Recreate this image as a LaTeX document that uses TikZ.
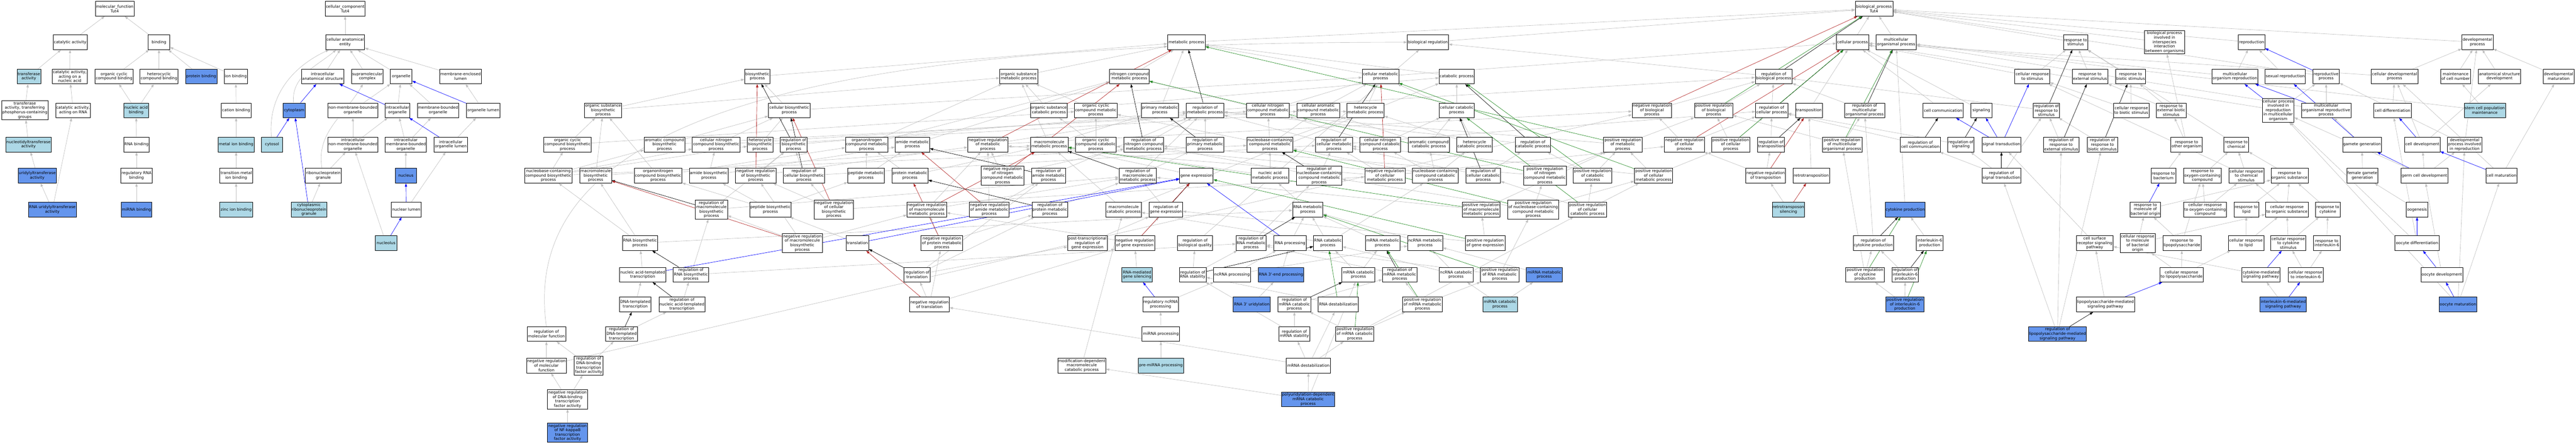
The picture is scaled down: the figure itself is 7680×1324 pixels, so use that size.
\documentclass[tikz,border=0pt]{standalone}
\usepackage{fontspec}
\setmainfont{DejaVu Sans}
\usetikzlibrary{arrows.meta}
\definecolor{lbc}{HTML}{ADD8E6}
\definecolor{blc}{HTML}{6495ED}
\definecolor{gec}{HTML}{C0C0C0}
\definecolor{rec}{HTML}{B22222}
\definecolor{grc}{HTML}{228B22}
\definecolor{bec}{HTML}{0000FF}
\newcommand{\gofont}{\fontsize{11.7}{13.2}\selectfont}
\newcommand{\gonode}[6]{\node[gb,minimum width=#4,#5] (#1) at (#2,-#3) {#6};}
\pgfdeclarelayer{bgfill}
\pgfdeclarelayer{edges}
\pgfsetlayers{bgfill,edges,main}
\tikzset{
  gb/.style={draw=black,line width=1.1pt,fill=white,align=center,inner sep=1.5pt,minimum height=44,font=\gofont},
  lbf/.style={fill=lbc},
  blf/.style={fill=blc},
  hfour/.style={minimum height=57},
  hfive/.style={minimum height=70},
  eb/.style={line width=1pt,-{Triangle[length=10pt,width=7pt]}},
  ge/.style={eb,draw=gec},
  ke/.style={eb,draw=black},
  re/.style={eb,draw=rec},
  gre/.style={eb,draw=grc},
  be/.style={eb,draw=bec}
}
\begin{document}
\begin{tikzpicture}[x=1pt,y=1pt]
\begin{pgfonlayer}{bgfill}
\path[use as bounding box,fill=white] (0,0) rectangle (7680,-1324);
\end{pgfonlayer}
% ---------- molecular function ----------
\gonode{mf}{342}{26}{116}{}{molecular\_function\\Tut4}
\gonode{catact}{209}{126}{102}{}{catalytic activity}
\gonode{binding}{474}{126}{64}{}{binding}
\gonode{transf}{86}{228}{71}{lbf}{transferase\\activity}
\gonode{catna}{208}{228}{105}{}{catalytic activity,\\acting on a\\nucleic acid}
\gonode{occb}{340}{228}{112}{}{organic cyclic\\compound binding}
\gonode{hcb}{474}{228}{113}{}{heterocyclic\\compound binding}
\gonode{protb}{600}{228}{94}{blf}{protein binding}
\gonode{ionb}{703}{228}{69}{}{ion binding}
\gonode{transphos}{74}{329}{138}{hfour}{transferase\\activity, transferring\\phosphorus-containing\\groups}
\gonode{catrna}{218}{329}{104}{}{catalytic activity,\\acting on RNA}
\gonode{nab}{406}{329}{73}{lbf}{nucleic acid\\binding}
\gonode{cationb}{704}{329}{88}{}{cation binding}
\gonode{ntt}{85}{431}{136}{lbf}{nucleotidyltransferase\\activity}
\gonode{rnab}{407}{431}{76}{}{RNA binding}
\gonode{metalb}{704}{431}{107}{lbf}{metal ion binding}
\gonode{uridyl}{111}{524}{114}{blf}{uridylyltransferase\\activity}
\gonode{regrnab}{407}{524}{93}{}{regulatory RNA\\binding}
\gonode{tmib}{704}{524}{98}{}{transition metal\\ion binding}
\gonode{rnauridyl}{156}{625}{143}{blf}{RNA uridylyltransferase\\activity}
\gonode{mirnab}{407}{625}{90}{blf}{miRNA binding}
\gonode{zincb}{704}{625}{97}{lbf}{zinc ion binding}
% ---------- cellular component ----------
\gonode{cc}{1029}{26}{118}{}{cellular\_component\\Tut4}
\gonode{cae}{1029}{126}{116}{}{cellular anatomical\\entity}
\gonode{ias}{962}{228}{126}{}{intracellular\\anatomical structure}
\gonode{smc}{1095}{228}{95}{}{supramolecular\\complex}
\gonode{organelle}{1196}{228}{65}{}{organelle}
\gonode{mel}{1373}{228}{125}{}{membrane-enclosed\\lumen}
\gonode{cytoplasm}{877}{329}{66}{blf}{cytoplasm}
\gonode{nmbo}{1052}{329}{148}{}{non-membrane-bounded\\organelle}
\gonode{io}{1185}{329}{73}{}{intracellular\\organelle}
\gonode{mbo}{1306}{329}{123}{}{membrane-bounded\\organelle}
\gonode{ol}{1441}{329}{100}{}{organelle lumen}
\gonode{cytosol}{811}{431}{63}{lbf}{cytosol}
\gonode{inmbo}{1052}{431}{148}{}{intracellular\\non-membrane-bounded\\organelle}
\gonode{imbo}{1210}{431}{123}{}{intracellular\\membrane-bounded\\organelle}
\gonode{iol}{1344}{431}{99}{}{intracellular\\organelle lumen}
\gonode{rnpg}{964}{524}{107}{}{ribonucleoprotein\\granule}
\gonode{nucleus}{1210}{524}{63}{blf}{nucleus}
\gonode{crnpg}{921}{625}{106}{lbf}{cytoplasmic\\ribonucleoprotein\\granule}
\gonode{nlumen}{1211}{625}{88}{}{nuclear lumen}
\gonode{nucleolus}{1151}{725}{64}{lbf}{nucleolus}
% ---------- biosynthetic ----------
\gonode{osbp}{1798}{329}{109}{}{organic substance\\biosynthetic\\process}
\gonode{biosyn}{2258}{228}{76}{}{biosynthetic\\process}
\gonode{cbp}{2353}{329}{124}{}{cellular biosynthetic\\process}
\gonode{occbp}{1692}{431}{141}{}{organic cyclic\\compound biosynthetic\\process}
\gonode{acbp}{1981}{431}{121}{}{aromatic compound\\biosynthetic\\process}
\gonode{cncbp}{2135}{431}{142}{}{cellular nitrogen\\compound biosynthetic\\process}
\gonode{hbp}{2266}{431}{76}{}{heterocycle\\biosynthetic\\process}
\gonode{regbp2}{2366}{431}{79}{}{regulation of\\biosynthetic\\process}
\gonode{nbcbp}{1635}{524}{140}{}{nucleobase-containing\\compound biosynthetic\\process}
\gonode{mbp}{1776}{524}{94}{}{macromolecule\\biosynthetic\\process}
\gonode{oncbp}{1962}{524}{142}{}{organonitrogen\\compound biosynthetic\\process}
\gonode{amidebp}{2113}{524}{116}{}{amide biosynthetic\\process}
\gonode{negregbiop}{2253}{524}{120}{}{negative regulation\\of biosynthetic\\process}
\gonode{regcbp}{2397}{524}{123}{}{regulation of\\cellular biosynthetic\\process}
\gonode{rmbp}{2121}{625}{96}{hfour}{regulation of\\macromolecule\\biosynthetic\\process}
\gonode{peptbp}{2297}{625}{122}{}{peptide biosynthetic\\process}
\gonode{negregcbp}{2486}{625}{117}{hfour}{negative regulation\\of cellular\\biosynthetic\\process}
\gonode{rnabp}{1908}{725}{105}{}{RNA biosynthetic\\process}
\gonode{negregmbp}{2392}{725}{119}{hfour}{negative regulation\\of macromolecule\\biosynthetic\\process}
\gonode{translation}{2556}{725}{68}{}{translation}
\gonode{nat}{1916}{819}{137}{}{nucleic acid-templated\\transcription}
\gonode{regrnabp}{2060}{819}{106}{}{regulation of\\RNA biosynthetic\\process}
\gonode{dnat}{1894}{908}{94}{}{DNA-templated\\transcription}
\gonode{regnat}{2033}{908}{137}{}{regulation of\\nucleic acid-templated\\transcription}
\gonode{regmf}{1629}{996}{115}{}{regulation of\\molecular function}
\gonode{regdnat}{1853}{996}{94}{}{regulation of\\DNA-templated\\transcription}
\gonode{negregmf}{1629}{1090}{118}{}{negative regulation\\of molecular\\function}
\gonode{regdbtf}{1755}{1090}{86}{hfour}{regulation of\\DNA-binding\\transcription\\factor activity}
\gonode{negregdbtf}{1692}{1191}{119}{hfour}{negative regulation\\of DNA-binding\\transcription\\factor activity}
\gonode{negregnfkb}{1692}{1290}{119}{hfour,blf}{negative regulation\\of NF-kappaB\\transcription\\factor activity}
% ---------- metabolic ----------
\gonode{metab}{3537}{126}{112}{}{metabolic process}
\gonode{osmp}{3037}{228}{113}{}{organic substance\\metabolic process}
\gonode{ncmp}{3367}{228}{117}{}{nitrogen compound\\metabolic process}
\gonode{oscp}{3127}{329}{109}{}{organic substance\\catabolic process}
\gonode{occmp}{3267}{329}{127}{}{organic cyclic\\compound metabolic\\process}
\gonode{primmet}{3458}{329}{112}{}{primary metabolic\\process}
\gonode{regmet}{3593}{329}{112}{}{regulation of\\metabolic process}
\gonode{cncmp}{3780}{329}{127}{}{cellular nitrogen\\compound metabolic\\process}
\gonode{oncmp}{2584}{431}{127}{}{organonitrogen\\compound metabolic\\process}
\gonode{amidemp}{2720}{431}{103}{}{amide metabolic\\process}
\gonode{negregmp}{2945}{431}{120}{}{negative regulation\\of metabolic\\process}
\gonode{macromp}{3128}{431}{112}{}{macromolecule\\metabolic process}
\gonode{occcp}{3267}{431}{122}{}{organic cyclic\\compound catabolic\\process}
\gonode{regncmp}{3410}{431}{117}{}{regulation of\\nitrogen compound\\metabolic process}
\gonode{regpmp}{3593}{431}{112}{}{regulation of\\primary metabolic\\process}
\gonode{nbcmp}{3786}{431}{137}{}{nucleobase-containing\\compound metabolic\\process}
\gonode{peptmp}{2582}{524}{109}{}{peptide metabolic\\process}
\gonode{protmp}{2713}{524}{108}{}{protein metabolic\\process}
\gonode{negregncmp}{2989}{524}{126}{hfour}{negative regulation\\of nitrogen\\compound metabolic\\process}
\gonode{regamp}{3126}{524}{102}{}{regulation of\\amide metabolic\\process}
\gonode{regmmp}{3392}{524}{112}{}{regulation of\\macromolecule\\metabolic process}
\gonode{geneexp}{3567}{524}{100}{}{gene expression}
\gonode{nacmp}{3786}{524}{111}{}{nucleic acid\\metabolic process}
\gonode{negregmmp}{2763}{625}{118}{}{negative regulation\\of macromolecule\\metabolic process}
\gonode{negregamp}{2949}{625}{118}{}{negative regulation\\of amide metabolic\\process}
\gonode{regprotmp}{3130}{625}{107}{}{regulation of\\protein metabolic\\process}
\gonode{macrocp}{3350}{625}{105}{}{macromolecule\\catabolic process}
\gonode{reggeneexp}{3476}{625}{100}{}{regulation of\\gene expression}
\gonode{negregprotmp}{2808}{725}{124}{}{negative regulation\\of protein metabolic\\process}
\gonode{ptrge}{3242}{725}{118}{}{post-transcriptional\\regulation of\\gene expression}
\gonode{negregge}{3383}{725}{118}{}{negative regulation\\of gene expression}
\gonode{regbq}{3563}{725}{104}{}{regulation of\\biological quality}
\gonode{regrnamp}{3730}{725}{90}{}{regulation of\\RNA metabolic\\process}
\gonode{rnaproc}{3846}{725}{96}{}{RNA processing}
\gonode{regtransl}{2734}{819}{78}{}{regulation of\\translation}
\gonode{rnamgs}{3390}{819}{90}{lbf}{RNA-mediated\\gene silencing}
\gonode{regrnastab}{3556}{819}{80}{}{regulation of\\RNA stability}
\gonode{ncrnaproc}{3673}{819}{110}{}{ncRNA processing}
\gonode{rna3end}{3819}{819}{136}{blf}{RNA 3\textquotesingle-end processing}
\gonode{negregtransl}{2771}{908}{118}{}{negative regulation\\of translation}
\gonode{regncrnaproc}{3460}{908}{106}{}{regulatory ncRNA\\processing}
\gonode{rna3urid}{3732}{908}{111}{blf}{RNA 3\textquotesingle{} uridylation}
\gonode{mirnaproc}{3461}{996}{112}{}{miRNA processing}
\gonode{mdmcp}{3225}{1090}{143}{}{modification-dependent\\macromolecule\\catabolic process}
\gonode{premirna}{3461}{1090}{135}{lbf}{pre-miRNA processing}
% ---------- catabolic / regulation ----------
\gonode{bioreg}{4257}{126}{123}{}{biological regulation}
\gonode{cellmet}{4116}{228}{109}{}{cellular metabolic\\process}
\gonode{catab}{4343}{228}{105}{}{catabolic process}
\gonode{camp}{3930}{329}{127}{}{cellular aromatic\\compound metabolic\\process}
\gonode{hmp}{4071}{329}{111}{}{heterocycle\\metabolic process}
\gonode{ccat}{4343}{329}{105}{}{cellular catabolic\\process}
\gonode{negregbp}{4925}{329}{118}{}{negative regulation\\of biological\\process}
\gonode{posregbp}{5109}{329}{114}{}{positive regulation\\of biological\\process}
\gonode{regcmp}{3977}{431}{110}{}{regulation of\\cellular metabolic\\process}
\gonode{cnccp}{4115}{431}{122}{}{cellular nitrogen\\compound catabolic\\process}
\gonode{accp}{4260}{431}{122}{}{aromatic compound\\catabolic process}
\gonode{hcp}{4396}{431}{106}{}{heterocycle\\catabolic process}
\gonode{regcatp}{4570}{431}{104}{}{regulation of\\catabolic process}
\gonode{posregmp}{4838}{431}{114}{}{positive regulation\\of metabolic\\process}
\gonode{negregcp}{5022}{431}{120}{}{negative regulation\\of cellular\\process}
\gonode{posregcp}{5160}{431}{115}{}{positive regulation\\of cellular\\process}
\gonode{regnbcmp}{3933}{524}{136}{hfour}{regulation of\\nucleobase-containing\\compound metabolic\\process}
\gonode{negregcmp}{4129}{524}{120}{}{negative regulation\\of cellular\\metabolic process}
\gonode{nbccp}{4279}{524}{136}{}{nucleobase-containing\\compound catabolic\\process}
\gonode{regccp}{4422}{524}{104}{}{regulation of\\cellular catabolic\\process}
\gonode{posregncmp}{4606}{524}{127}{hfour}{positive regulation\\of nitrogen\\compound metabolic\\process}
\gonode{posregcatp}{4748}{524}{115}{}{positive regulation\\of catabolic\\process}
\gonode{posregcmp}{4930}{524}{114}{}{positive regulation\\of cellular\\metabolic process}
\gonode{rnamp}{3899}{625}{90}{}{RNA metabolic\\process}
\gonode{posregmmp}{4416}{625}{110}{}{positive regulation\\of macromolecule\\metabolic process}
\gonode{posregnbcmp}{4571}{625}{152}{hfour}{positive regulation\\of nucleobase-containing\\compound metabolic\\process}
\gonode{posregccp}{4733}{625}{113}{}{positive regulation\\of cellular\\catabolic process}
% ---------- RNA ----------
\gonode{rnacp}{3959}{725}{86}{}{RNA catabolic\\process}
\gonode{mrnamp}{4122}{725}{103}{}{mRNA metabolic\\process}
\gonode{ncrnamp}{4249}{725}{104}{}{ncRNA metabolic\\process}
\gonode{posregge}{4428}{725}{117}{}{positive regulation\\of gene expression}
\gonode{mrnacp}{4050}{819}{98}{}{mRNA catabolic\\process}
\gonode{regmrnamp}{4173}{819}{103}{}{regulation of\\mRNA metabolic\\process}
\gonode{ncrnacp}{4341}{819}{101}{}{ncRNA catabolic\\process}
\gonode{posregrnamp}{4471}{819}{114}{}{positive regulation\\of RNA metabolic\\process}
\gonode{mirnamp}{4604}{819}{107}{blf}{miRNA metabolic\\process}
\gonode{regmrnacp}{3859}{908}{98}{}{regulation of\\mRNA catabolic\\process}
\gonode{rnadestab}{3990}{908}{120}{}{RNA destabilization}
\gonode{posregmrnamp}{4241}{908}{119}{}{positive regulation\\of mRNA metabolic\\process}
\gonode{mirnacp}{4472}{908}{103}{lbf}{miRNA catabolic\\process}
\gonode{regmrnastab}{3859}{996}{92}{}{regulation of\\mRNA stability}
\gonode{posregmrnacp}{4039}{996}{114}{}{positive regulation\\of mRNA catabolic\\process}
\gonode{mrnadestab}{3901}{1090}{132}{}{mRNA destabilization}
\gonode{polyu}{3900}{1191}{159}{blf}{polyuridylation-dependent\\mRNA catabolic\\process}
% ---------- biological process top ----------
\gonode{bp}{5587}{26}{112}{}{biological\_process\\Tut4}
\gonode{cellproc}{5523}{126}{96}{}{cellular process}
\gonode{multorg}{5653}{126}{120}{}{multicellular\\organismal process}
\gonode{respstim}{6188}{126}{73}{}{response to\\stimulus}
\gonode{regbp}{5288}{228}{110}{}{regulation of\\biological process}
\gonode{crstim}{6059}{228}{104}{}{cellular response\\to stimulus}
\gonode{rextstim}{6231}{228}{107}{}{response to\\external stimulus}
\gonode{rbiotic}{6352}{228}{88}{}{response to\\biotic stimulus}
\gonode{regcp}{5282}{329}{96}{}{regulation of\\cellular process}
\gonode{transpos}{5393}{329}{80}{}{transposition}
\gonode{regmop}{5559}{329}{119}{}{regulation of\\multicellular\\organismal process}
\gonode{cellcomm}{5793}{329}{119}{}{cell communication}
\gonode{signaling}{5907}{329}{63}{}{signaling}
\gonode{regrstim}{6101}{329}{77}{}{regulation of\\response to\\stimulus}
\gonode{crbiotic}{6354}{329}{105}{}{cellular response\\to biotic stimulus}
\gonode{regtransp}{5280}{431}{80}{}{regulation of\\transposition}
\gonode{posregmop}{5492}{431}{118}{}{positive regulation\\of multicellular\\organismal process}
\gonode{regcc}{5725}{431}{119}{}{regulation of\\cell communication}
\gonode{regsig}{5846}{431}{78}{}{regulation of\\signaling}
\gonode{sigtrans}{5967}{431}{115}{}{signal transduction}
\gonode{regrext}{6145}{431}{107}{}{regulation of\\response to\\external stimulus}
\gonode{regrbiotic}{6268}{431}{90}{}{regulation of\\response to\\biotic stimulus}
\gonode{negregtransp}{5264}{524}{118}{}{negative regulation\\of transposition}
\gonode{retrotransp}{5400}{524}{110}{}{retrotransposition}
\gonode{regsigtrans}{5967}{524}{115}{}{regulation of\\signal transduction}
\gonode{retrosil}{5332}{625}{96}{lbf}{retrotransposon\\silencing}
\gonode{cytoprod}{5680}{625}{119}{blf}{cytokine production}
\gonode{rmbo}{6396}{625}{91}{}{response to\\molecule of\\bacterial origin}
\gonode{regcytoprod}{5585}{725}{120}{}{regulation of\\cytokine production}
\gonode{il6prod}{5753}{725}{80}{}{interleukin-6\\production}
\gonode{csrsp}{6245}{725}{110}{}{cell surface\\receptor signaling\\pathway}
\gonode{crmbo}{6373}{725}{105}{hfour}{cellular response\\to molecule\\of bacterial\\origin}
\gonode{posregcytoprod}{5560}{819}{114}{}{positive regulation\\of cytokine\\production}
\gonode{regil6}{5680}{819}{79}{}{regulation of\\interleukin-6\\production}
\gonode{posregil6}{5679}{908}{114}{blf}{positive regulation\\of interleukin-6\\production}
\gonode{lpssp}{6277}{908}{174}{}{lipopolysaccharide-mediated\\signaling pathway}
\gonode{reglpssp}{6134}{996}{173}{blf}{regulation of\\lipopolysaccharide-mediated\\signaling pathway}
% ---------- reproduction / development / response ----------
\gonode{interspec}{6453}{126}{120}{hfive}{biological process\\involved in\\interspecies\\interaction\\between organisms}
\gonode{repro}{6713}{126}{79}{}{reproduction}
\gonode{devproc}{7386}{126}{93}{}{developmental\\process}
\gonode{mor}{6663}{228}{136}{}{multicellular\\organism reproduction}
\gonode{sexrep}{6813}{228}{120}{}{sexual reproduction}
\gonode{reprocp}{6935}{228}{79}{}{reproductive\\process}
\gonode{celldevp}{7139}{228}{139}{}{cellular developmental\\process}
\gonode{maintcn}{7321}{228}{89}{}{maintenance\\of cell number}
\gonode{asd}{7452}{228}{126}{}{anatomical structure\\development}
\gonode{devmat}{7628}{228}{93}{}{developmental\\maturation}
\gonode{rebiotic}{6473}{329}{88}{}{response to\\external biotic\\stimulus}
\gonode{cpirmo}{6792}{329}{95}{hfive}{cellular process\\involved in\\reproduction\\in multicellular\\organism}
\gonode{morp}{6935}{329}{147}{}{multicellular\\organismal reproductive\\process}
\gonode{celldiff}{7133}{329}{112}{}{cell differentiation}
\gonode{stemcell}{7408}{329}{123}{lbf}{stem cell population\\maintenance}
\gonode{rother}{6519}{431}{94}{}{response to\\other organism}
\gonode{rchem}{6667}{431}{74}{}{response to\\chemical}
\gonode{gametegen}{7042}{431}{116}{}{gamete generation}
\gonode{celldev}{7222}{431}{106}{}{cell development}
\gonode{dpir}{7348}{431}{102}{}{developmental\\process involved\\in reproduction}
\gonode{rbact}{6450}{524}{74}{}{response to\\bacterium}
\gonode{roxy}{6566}{524}{111}{}{response to\\oxygen-containing\\compound}
\gonode{crchem}{6697}{524}{104}{}{cellular response\\to chemical\\stimulus}
\gonode{rorgsub}{6826}{524}{111}{}{response to\\organic substance}
\gonode{femgam}{7043}{524}{93}{}{female gamete\\generation}
\gonode{germcd}{7228}{524}{140}{}{germ cell development}
\gonode{cellmat}{7458}{524}{93}{}{cell maturation}
\gonode{croxy}{6574}{625}{128}{}{cellular response\\to oxygen-containing\\compound}
\gonode{rlipid}{6697}{625}{74}{}{response to\\lipid}
\gonode{crorgsub}{6818}{625}{127}{}{cellular response\\to organic substance}
\gonode{rcytokine}{6940}{625}{74}{}{response to\\cytokine}
\gonode{oogenesis}{7206}{625}{65}{}{oogenesis}
\gonode{rlps}{6505}{725}{114}{}{response to\\lipopolysaccharide}
\gonode{crlipid}{6696}{725}{106}{}{cellular response\\to lipid}
\gonode{crcytokine}{6822}{725}{105}{}{cellular response\\to cytokine\\stimulus}
\gonode{ril6}{6937}{725}{79}{}{response to\\interleukin-6}
\gonode{oocytediff}{7206}{725}{131}{}{oocyte differentiation}
\gonode{crlps}{6504}{819}{129}{}{cellular response\\to lipopolysaccharide}
\gonode{cmsp}{6741}{819}{114}{}{cytokine-mediated\\signaling pathway}
\gonode{cril6}{6874}{819}{105}{}{cellular response\\to interleukin-6}
\gonode{oocytedev}{7280}{819}{124}{}{oocyte development}
\gonode{il6sp}{6807}{908}{138}{blf}{interleukin-6-mediated\\signaling pathway}
\gonode{oocytemat}{7328}{908}{112}{blf}{oocyte maturation}
% ================= edges =================
\begin{pgfonlayer}{edges}
\foreach \a/\b in {catact/mf,binding/mf,transf/catact,catna/catact,occb/binding,hcb/binding,protb/binding,ionb/binding,transphos/transf,catrna/catna,nab/occb,nab/hcb,cationb/ionb,ntt/transphos,rnab/nab,metalb/cationb,uridyl/ntt,regrnab/rnab,tmib/metalb,rnauridyl/uridyl,rnauridyl/catrna,mirnab/regrnab,zincb/tmib,
cae/cc,ias/cae,smc/cae,organelle/cae,mel/cae,io/organelle,nmbo/organelle,mbo/organelle,ol/mel,iol/ol,inmbo/nmbo,inmbo/io,imbo/io,imbo/mbo,rnpg/inmbo,nucleus/imbo,crnpg/rnpg,nlumen/iol,nucleolus/inmbo}
  \draw[ge] (\a) -- (\b);
\draw[ge] (cytoplasm) to[out=95,in=-140] (cae);
\draw[ge] (cytosol) to[out=95,in=-155] (cae);
\draw[ge] (rnpg) to[out=100,in=-120] (smc);
\foreach \a/\b in {cytoplasm/ias,io/ias,ol/organelle,iol/io,cytosol/cytoplasm,crnpg/cytoplasm,nlumen/nucleus,nucleolus/nlumen}
  \draw[be] (\a) -- (\b);
% gray BP
\foreach \a/\b in {metab/bp,bioreg/bp,cellproc/bp,multorg/bp,respstim/bp,interspec/bp,repro/bp,devproc/bp,reprocp/bp,
regbp/bioreg,biosyn/metab,osmp/metab,ncmp/metab,cellmet/metab,cellmet/cellproc,catab/metab,primmet/metab,regmet/regbp,negregmp/regmet,posregmp/regmet,negregmp/negregbp,posregmp/posregbp,negregbp/regbp,posregbp/regbp,regbq/bioreg,
osbp/biosyn,osbp/osmp,cbp/biosyn,cbp/cellmet,regbp2/regmet,negregbiop/regbp2,negregbiop/negregmp,occbp/osbp,occbp/occmp,acbp/cbp,acbp/camp,cncbp/cbp,cncbp/cncmp,hbp/cbp,hbp/hmp,nbcbp/occbp,nbcbp/acbp,nbcbp/cncbp,nbcbp/hbp,nbcbp/nbcmp,mbp/osbp,mbp/macromp,oncbp/osbp,oncbp/oncmp,amidebp/cncbp,amidebp/amidemp,regcbp/regbp2,regcbp/regcmp,negregcbp/negregbiop,negregcbp/regcbp,negregcbp/negregcmp,rmbp/regbp2,rmbp/regmmp,peptbp/amidebp,peptbp/peptmp,peptbp/oncbp,negregmbp/rmbp,negregmbp/negregbiop,negregmbp/negregmmp,translation/peptbp,rnabp/mbp,rnabp/nbcbp,rnabp/rnamp,nat/rnabp,regrnabp/rmbp,regrnabp/regrnamp,dnat/nat,regnat/regrnabp,regdnat/regnat,negregmf/regmf,negregmf/negregbp,regdbtf/regmf,regdbtf/regdnat,negregdbtf/negregmf,negregdbtf/regdbtf,negregnfkb/negregdbtf}
  \draw[ge] (\a) -- (\b);
\foreach \a/\b in {oscp/osmp,oscp/catab,occmp/osmp,cncmp/ncmp,cncmp/cellmet,camp/cellmet,hmp/cellmet,ccat/catab,ccat/cellmet,oncmp/osmp,oncmp/ncmp,amidemp/ncmp,macromp/osmp,macromp/primmet,occcp/occmp,occcp/oscp,regncmp/regmet,regpmp/regmet,nbcmp/cncmp,nbcmp/camp,nbcmp/hmp,nbcmp/occmp,regcmp/regmet,regcmp/regcp,cnccp/cncmp,cnccp/ccat,accp/camp,accp/ccat,hcp/hmp,hcp/ccat,regcatp/regmet,negregcp/regcp,negregcp/negregbp,posregcp/regcp,posregcp/posregbp,regcp/regbp,
peptmp/amidemp,peptmp/oncmp,protmp/macromp,protmp/oncmp,negregncmp/regncmp,negregncmp/negregmp,regamp/regmet,regmmp/regmet,regmmp/regpmp,geneexp/macromp,nacmp/nbcmp,nacmp/macromp,regnbcmp/regcmp,regnbcmp/regncmp,negregcmp/regcmp,negregcmp/negregmp,negregcmp/negregcp,nbccp/nbcmp,nbccp/cnccp,nbccp/accp,nbccp/hcp,nbccp/occcp,regccp/regcatp,regccp/regcmp,posregncmp/regncmp,posregncmp/posregmp,posregcatp/regcatp,posregcatp/posregmp,posregcmp/regcmp,posregcmp/posregmp,posregcmp/posregcp,
negregmmp/regmmp,negregmmp/negregmp,negregamp/regamp,negregamp/negregmp,regprotmp/regmmp,macrocp/macromp,macrocp/catab,reggeneexp/regmmp,rnamp/nacmp,posregmmp/regmmp,posregmmp/posregmp,posregnbcmp/regnbcmp,posregnbcmp/posregcmp,posregnbcmp/posregncmp,posregccp/regccp,posregccp/posregcatp,posregccp/posregcmp}
  \draw[ge] (\a) -- (\b);
\foreach \a/\b in {negregprotmp/regprotmp,negregprotmp/negregmmp,ptrge/reggeneexp,negregge/reggeneexp,negregge/negregmmp,regrnamp/regnbcmp,rnaproc/rnamp,rnacp/rnamp,rnacp/nbccp,rnacp/macrocp,mrnamp/rnamp,ncrnamp/rnamp,posregge/reggeneexp,posregge/posregmmp,
regtransl/ptrge,regtransl/regamp,regtransl/regprotmp,rnamgs/negregge,regrnastab/regbq,regrnastab/regrnamp,ncrnaproc/rnaproc,ncrnaproc/ncrnamp,rna3end/rnaproc,mrnacp/mrnamp,mrnacp/rnacp,regmrnamp/regrnamp,ncrnacp/ncrnamp,ncrnacp/rnacp,posregrnamp/regrnamp,posregrnamp/posregnbcmp,mirnamp/ncrnamp,
negregtransl/regtransl,negregtransl/negregprotmp,negregtransl/negregge,regncrnaproc/ncrnaproc,rna3urid/rna3end,regmrnacp/regmrnamp,rnadestab/regrnastab,posregmrnamp/regmrnamp,posregmrnamp/posregrnamp,mirnacp/mirnamp,mirnacp/ncrnacp,
mirnaproc/regncrnaproc,regmrnastab/regrnastab,regmrnastab/regmrnacp,posregmrnacp/regmrnacp,posregmrnacp/posregmrnamp,posregmrnacp/posregccp,
premirna/mirnaproc,mrnadestab/rnadestab,mrnadestab/regmrnastab,mrnadestab/posregmrnacp,mrnadestab/negregtransl,polyu/mrnadestab,polyu/mdmcp,polyu/mrnacp,mdmcp/macrocp}
  \draw[ge] (\a) -- (\b);
\foreach \a/\b in {cellcomm/cellproc,signaling/cellproc,regcc/regcp,regsig/regcp,regsigtrans/regcc,regsigtrans/regsig,regsigtrans/regrstim,crstim/respstim,crstim/cellproc,rextstim/respstim,rbiotic/respstim,regrstim/regbp,regrext/regrstim,regrbiotic/regrstim,crbiotic/rbiotic,crbiotic/crstim,rebiotic/rbiotic,rebiotic/rextstim,rother/rebiotic,rother/interspec,rbact/rother,rmbo/rorgsub,rchem/respstim,roxy/rchem,crchem/rchem,crchem/crstim,rorgsub/rchem,croxy/roxy,croxy/crchem,rlipid/rorgsub,crorgsub/rorgsub,crorgsub/crchem,rcytokine/rorgsub,rlps/rmbo,rlps/roxy,crmbo/rmbo,crmbo/crorgsub,crlipid/rlipid,crlipid/crorgsub,crcytokine/rcytokine,crcytokine/crorgsub,ril6/rcytokine,crlps/rlps,crlps/crmbo,crlps/crlipid,csrsp/sigtrans,cmsp/csrsp,cril6/crcytokine,cril6/ril6,lpssp/csrsp,il6sp/cmsp,reglpssp/regsigtrans,reglpssp/regrbiotic,reglpssp/regrext,
transpos/cellproc,regtransp/regcp,negregtransp/regtransp,negregtransp/negregcp,retrotransp/transpos,retrosil/negregtransp,
regmop/regbp,posregmop/regmop,posregmop/posregbp,cytoprod/multorg,regcytoprod/regmop,posregcytoprod/regcytoprod,posregcytoprod/posregmop,il6prod/cytoprod,regil6/regcytoprod,posregil6/regil6,posregil6/posregcytoprod,
mor/repro,mor/multorg,sexrep/repro,celldevp/devproc,celldevp/cellproc,maintcn/devproc,asd/devproc,devmat/devproc,cpirmo/reprocp,cpirmo/cellproc,morp/reprocp,morp/multorg,celldiff/celldevp,stemcell/maintcn,stemcell/multorg,gametegen/morp,celldev/celldevp,celldev/asd,dpir/reprocp,dpir/devproc,femgam/gametegen,germcd/celldev,germcd/cpirmo,germcd/dpir,cellmat/devmat,cellmat/celldevp,oogenesis/femgam,oocytediff/celldiff,oocytediff/cpirmo,oocytedev/germcd,oocytemat/cellmat,oocytemat/dpir,oocytemat/cpirmo}
  \draw[ge] (\a) -- (\b);
\draw[ge] (regmf.north) .. controls +(-100,700) and +(-1500,0) .. (bioreg.west);
% black (regulates)
\foreach \a/\b in {regbp/bp,regmet/metab,regbp2/biosyn,regcbp/cbp,rmbp/mbp,regrnabp/rnabp,regnat/nat,regdnat/dnat,regncmp/ncmp,regpmp/primmet,regcmp/cellmet,regcatp/catab,regcp/cellproc,regamp/amidemp,regmmp/macromp,regnbcmp/nbcmp,regccp/ccat,regprotmp/protmp,reggeneexp/geneexp,regrnamp/rnamp,regtransl/translation,regrnastab/rnacp,regmrnamp/mrnamp,regmrnacp/mrnacp,regcc/cellcomm,regsig/signaling,regsigtrans/sigtrans,regrstim/respstim,regrext/rextstim,regrbiotic/rbiotic,reglpssp/lpssp,regtransp/transpos,regmop/multorg,regcytoprod/cytoprod,regil6/il6prod}
  \draw[ke] (\a) -- (\b);
% red (negatively regulates)
\foreach \a/\b in {negregbp/bp,negregmp/metab,negregbiop/biosyn,negregcbp/cbp,negregmbp/mbp,negregncmp/ncmp,negregcmp/cellmet,negregcp/cellproc,negregmmp/macromp,negregamp/amidemp,negregprotmp/protmp,negregge/geneexp,negregtransl/translation,negregtransp/transpos,retrosil/retrotransp}
  \draw[re] (\a) -- (\b);
% green (positively regulates)
\foreach \a/\b in {posregbp/bp,posregmp/metab,posregncmp/ncmp,posregcmp/cellmet,posregcatp/catab,posregccp/ccat,posregnbcmp/nbcmp,posregmmp/macromp,posregrnamp/rnamp,posregge/geneexp,posregmrnamp/mrnamp,posregmrnacp/mrnacp,rnadestab/rnacp,posregcp/cellproc,posregmop/multorg,posregcytoprod/cytoprod,posregil6/il6prod}
  \draw[gre] (\a) -- (\b);
% blue (part of)
\foreach \a/\b in {translation/geneexp,nat/geneexp,rnaproc/geneexp,regncrnaproc/rnamgs,sigtrans/cellcomm,sigtrans/signaling,sigtrans/crstim,rmbo/rbact,cmsp/crcytokine,lpssp/crlps,il6sp/cril6,reprocp/repro,cpirmo/mor,morp/mor,gametegen/sexrep,celldev/celldiff,germcd/gametegen,cellmat/celldev,oocytediff/oogenesis,oocytedev/oocytediff,oocytemat/oocytedev}
  \draw[be] (\a) -- (\b);
\end{pgfonlayer}
\end{tikzpicture}
\end{document}
